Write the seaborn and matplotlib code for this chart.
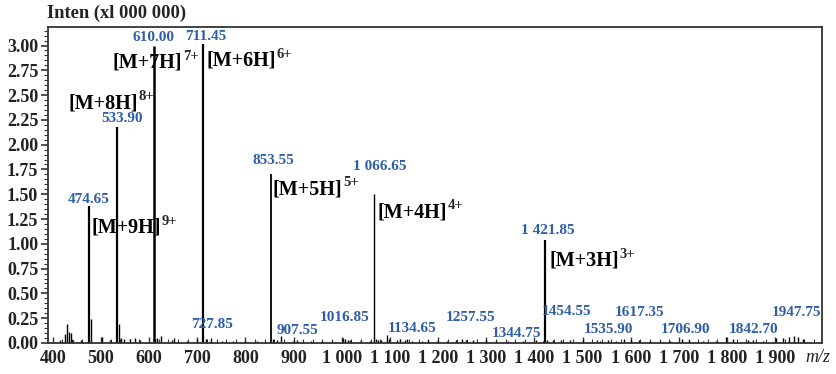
import numpy as np
import matplotlib.pyplot as plt
import seaborn as sns
from matplotlib.ticker import MultipleLocator, FixedLocator

# main charge-state peaks (m/z, intensity x1e6)
main_mz = [474.65, 533.90, 610.00, 711.45, 853.55, 1066.65, 1421.85]
main_int = [1.38, 2.18, 3.00, 3.02, 1.70, 1.50, 1.04]
main_lw = [1.6, 1.6, 1.8, 1.6, 1.3, 1.0, 1.6]

# small peaks along the baseline
minor_mz = [415, 425, 428.7, 433, 437, 441, 458, 478.6, 503, 519, 538, 541, 548, 560,
            570, 581, 612, 617, 624, 647, 651, 678, 699, 719, 727.85, 751, 775, 800,
            824, 858, 865, 873, 899, 907.55, 919, 937, 958, 979, 1002, 1007, 1012, 1016.85,
            1038, 1058, 1071, 1076, 1082, 1093, 1099, 1114, 1121, 1131, 1134.65, 1145,
            1166, 1180, 1197, 1218, 1238, 1249, 1257.55, 1273, 1300, 1321, 1344.75,
            1376, 1404, 1418, 1426, 1438, 1454.55, 1474, 1501, 1529, 1535.90, 1553,
            1570, 1587, 1601, 1617.35, 1639, 1660, 1681, 1706.90, 1722, 1750, 1778,
            1798, 1812, 1842.70, 1853, 1874, 1902, 1916, 1929, 1940, 1947.75, 1957]
minor_int = [0.03, 0.09, 0.19, 0.11, 0.10, 0.03, 0.03, 0.24, 0.06, 0.03, 0.19, 0.05, 0.04, 0.04,
             0.05, 0.03, 0.04, 0.05, 0.07, 0.03, 0.05, 0.02, 0.04, 0.04, 0.05, 0.02, 0.02, 0.02,
             0.02, 0.04, 0.03, 0.07, 0.02, 0.03, 0.02, 0.02, 0.02, 0.02, 0.05, 0.04, 0.03, 0.03,
             0.02, 0.02, 0.04, 0.03, 0.03, 0.08, 0.04, 0.03, 0.04, 0.03, 0.04, 0.02,
             0.02, 0.03, 0.02, 0.02, 0.03, 0.04, 0.03, 0.03, 0.03, 0.02, 0.02,
             0.02, 0.03, 0.02, 0.03, 0.03, 0.03, 0.03, 0.03, 0.03, 0.02, 0.03,
             0.02, 0.04, 0.03, 0.03, 0.02, 0.02, 0.02, 0.04, 0.03, 0.02, 0.02,
             0.06, 0.04, 0.03, 0.03, 0.02, 0.05, 0.05, 0.06, 0.07, 0.06, 0.04]

# blue m/z labels: text and anchor (m/z, intensity)
peak_labels = ['474.65', '533.90', '610.00', '711.45', '853.55', '1 066.65', '1 421.85',
               '727.85', '907.55', '1016.85', '1134.65', '1257.55', '1344.75', '1454.55',
               '1535.90', '1617.35', '1706.90', '1842.70', '1947.75']
peak_label_x = [475, 543.6, 610, 718, 859, 1079, 1428, 730, 909, 1006.6, 1145.7, 1268,
                1363.7, 1467.6, 1552.7, 1619, 1714.7, 1855.9, 1945]
peak_label_y = [1.45, 2.26, 3.08, 3.09, 1.84, 1.78, 1.13, 0.19, 0.13, 0.26, 0.15, 0.26,
                0.10, 0.32, 0.14, 0.31, 0.14, 0.14, 0.31]

# ion assignments
ion_names = ['[M+9H]', '[M+8H]', '[M+7H]', '[M+6H]', '[M+5H]', '[M+4H]', '[M+3H]']
ion_charges = ['9+', '8+', '7+', '6+', '5+', '4+', '3+']
ion_x = [481, 432, 525, 719, 857, 1075, 1431]
ion_y = [1.16, 2.42, 2.83, 2.85, 1.55, 1.32, 0.83]

x_ticks = [400, 500, 600, 700, 800, 900, 1000, 1100, 1200, 1300, 1400, 1500, 1600, 1700, 1800, 1900]
x_tick_labels = ['400', '500', '600', '700', '800', '900', '1 000', '1 100', '1 200', '1 300',
                 '1 400', '1 500', '1 600', '1 700', '1 800', '1 900']

sns.set_style('ticks')
plt.rcParams['font.family'] = ['Liberation Serif', 'DejaVu Serif']

fig = plt.figure(figsize=(8.37, 3.74), dpi=100)
ax = fig.add_axes([0.0573, 0.083, 0.9247, 0.8457])

blue = '#2f5ea8'
spine_col = '#333333'

ax.vlines(minor_mz, 0, minor_int, color='black', lw=1.0)
ax.vlines(main_mz, 0, main_int, color='black', lw=main_lw)

for txt, x, y in zip(peak_labels, peak_label_x, peak_label_y):
    ax.text(x, y, txt, color=blue, fontsize=11, fontweight='bold', ha='center', va='center')

# ion name with charge as a superscript attached to the upper right corner
for name, ch, x, y in zip(ion_names, ion_charges, ion_x, ion_y):
    t = ax.text(x, y, name, color='black', fontsize=14.5, fontweight='bold', ha='left', va='center')
    ax.annotate(ch, xy=(1, 1), xycoords=t, xytext=(0.5, 2), textcoords='offset points',
                fontsize=10.5, fontweight='bold', ha='left', va='top')

ax.set_xlim(390, 1997)
ax.set_ylim(0, 3.19)
ax.xaxis.set_major_locator(FixedLocator(x_ticks))
ax.set_xticklabels(x_tick_labels)
ax.xaxis.set_minor_locator(MultipleLocator(20))
ax.yaxis.set_major_locator(MultipleLocator(0.25))
ax.yaxis.set_minor_locator(MultipleLocator(0.05))
ax.yaxis.set_major_formatter(plt.FormatStrFormatter('%.2f'))

ax.tick_params(axis='y', which='major', direction='out', length=5, width=1.2, color=spine_col,
               labelsize=13, pad=2)
ax.tick_params(axis='y', which='minor', direction='out', length=3, width=0.8, color=spine_col)
ax.tick_params(axis='x', which='major', direction='in', length=4, width=1.0, color=spine_col,
               labelsize=13, pad=5)
ax.tick_params(axis='x', which='minor', direction='in', length=3, width=0.8, color=spine_col)
for lab in ax.get_xticklabels() + ax.get_yticklabels():
    lab.set_fontweight('bold')
    lab.set_color('#222222')

for s in ax.spines.values():
    s.set_visible(True)
    s.set_color(spine_col)
    s.set_linewidth(1.3)

fig.text(0.056, 0.963, 'Inten (xl 000 000)', fontsize=13.3, fontweight='bold', ha='left', va='center',
         color='#222222')
fig.text(0.962, 0.045, 'm/z', fontsize=13, fontstyle='italic', ha='left', va='center', color='#222222')

fig.savefig('out.png', dpi=100)
